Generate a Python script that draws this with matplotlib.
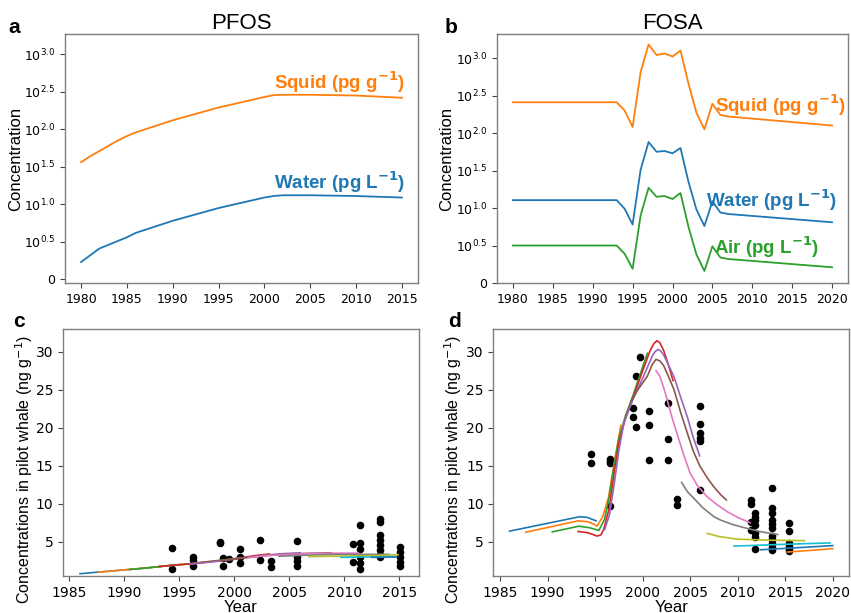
import matplotlib
matplotlib.use("Agg")
import matplotlib.pyplot as plt

# ------------------------------------------------------------------
# data
# ------------------------------------------------------------------

# panel a: PFOS model concentrations (log10 scale)
pfos_years = [1980, 1981, 1982, 1983, 1984, 1985, 1986, 1987.5, 1988, 1990,
              1995, 2000, 2001, 2002, 2005, 2010, 2015]
pfos_squid = [1.56, 1.64, 1.71, 1.78, 1.85, 1.91, 1.96, 2.02, 2.04, 2.12,
              2.29, 2.43, 2.455, 2.46, 2.46, 2.45, 2.42]
pfos_water = [0.23, 0.32, 0.41, 0.46, 0.51, 0.56, 0.62, 0.68, 0.70, 0.78,
              0.95, 1.09, 1.11, 1.12, 1.12, 1.11, 1.09]

# panel b: FOSA model concentrations (log10 scale)
fosa_years = [1980, 1993, 1994, 1995, 1996, 1997, 1998, 1999, 2000, 2001,
              2002, 2003, 2004, 2005, 2006, 2007, 2020]
fosa_squid = [2.41, 2.41, 2.30, 2.08, 2.81, 3.18, 3.04, 3.06, 3.02, 3.10,
              2.66, 2.27, 2.05, 2.39, 2.24, 2.22, 2.10]
fosa_water = [1.105, 1.105, 0.99, 0.78, 1.51, 1.88, 1.75, 1.76, 1.73, 1.80,
              1.35, 0.98, 0.76, 1.09, 0.94, 0.92, 0.81]
fosa_air = [0.50, 0.50, 0.39, 0.19, 0.90, 1.27, 1.15, 1.16, 1.12, 1.20,
            0.75, 0.38, 0.16, 0.49, 0.34, 0.32, 0.21]

log_ticks = [0, 0.5, 1.0, 1.5, 2.0, 2.5, 3.0]
log_labels = ["0", "$10^{0.5}$", "$10^{1.0}$", "$10^{1.5}$", "$10^{2.0}$",
              "$10^{2.5}$", "$10^{3.0}$"]

# panel c: PFOS measured in pilot whales (sampling year -> values)
c_sample_years = [1994.4, 1996.3, 1998.7, 1999.0, 1999.5, 2000.5, 2002.4,
                  2003.35, 2005.7, 2010.8, 2011.45, 2013.25, 2015.05]
c_sample_values = [
    [4.2, 1.4],
    [3.0, 2.6, 1.85],
    [5.0, 4.8],
    [2.8, 1.8],
    [2.7],
    [4.1, 3.0, 2.15],
    [5.2, 2.6],
    [2.5, 1.7],
    [5.15, 3.0, 2.45, 1.8],
    [4.65, 2.35],
    [7.2, 4.8, 4.1, 3.0, 2.15, 1.4],
    [8.05, 7.6, 5.9, 5.2, 4.55, 3.9, 3.25, 3.0],
    [4.35, 3.7, 3.0, 2.4, 1.8],
]

# panel c: modelled cohorts (years, values)
c_model_years = [
    [1986, 1988, 1990, 1992, 1994, 1995],
    [1987.7, 1990, 1992, 1994, 1996, 1997.7],
    [1990.5, 1992, 1994, 1996, 1998, 2000.5],
    [1993.2, 1996, 1998, 2000, 2002, 2003.2],
    [1996, 1998, 2000, 2002, 2004, 2006],
    [1998.8, 2000, 2002, 2004, 2006, 2008.8],
    [2001.3, 2003, 2005, 2007, 2009, 2011.3],
    [2004.1, 2006, 2008, 2010, 2012, 2014.1],
    [2006.8, 2009, 2011, 2013, 2014.9],
    [2009.7, 2012, 2014.7],
    [2012.5, 2014.7],
]
c_model_values = [
    [0.8, 1.05, 1.3, 1.55, 1.85, 2.0],
    [1.0, 1.3, 1.55, 1.85, 2.1, 2.4],
    [1.35, 1.55, 1.85, 2.1, 2.45, 2.85],
    [1.75, 2.1, 2.4, 2.75, 3.2, 3.4],
    [2.05, 2.35, 2.7, 3.1, 3.4, 3.55],
    [2.5, 2.75, 3.05, 3.3, 3.45, 3.55],
    [2.9, 3.2, 3.35, 3.45, 3.5, 3.5],
    [3.1, 3.2, 3.3, 3.35, 3.35, 3.35],
    [3.05, 3.1, 3.15, 3.2, 3.3],
    [2.95, 3.0, 3.05],
    [2.95, 3.0],
]

# panel d: FOSA measured in pilot whales
d_sample_years = [1994.55, 1996.55, 1998.95, 1999.25, 1999.7, 2000.7, 2002.65,
                  2003.6, 2006.0, 2011.4, 2011.8, 2013.55, 2015.4]
d_sample_values = [
    [16.6, 15.4],
    [15.9, 15.6, 15.4, 9.7],
    [22.6, 21.4],
    [26.8, 20.1],
    [29.3],
    [22.2, 20.3, 15.7],
    [23.3, 18.55, 15.7],
    [10.6, 9.8],
    [22.9, 20.5, 19.3, 18.7, 18.2, 11.75],
    [10.5, 10.0, 7.6, 6.5],
    [8.8, 8.2, 7.8, 7.2, 6.1, 5.6, 4.1],
    [12.1, 9.4, 8.8, 7.8, 7.3, 6.75, 5.75, 5.3, 4.8, 4.25, 3.9],
    [7.5, 6.45, 4.9, 4.4, 4.0, 3.8],
]

# panel d: modelled cohorts
d_model_years = [
    [1986, 1993.4, 1994.2, 1995.1],
    [1987.7, 1993.2, 1994.2, 1994.9, 1995.2, 1995.8, 1996.4, 1997, 1997.7],
    [1990.5, 1993.3, 1994.4, 1995.1, 1995.4, 1996, 1996.5, 1997, 1997.5,
     1998.2, 1999, 2000, 2000.5],
    [1993.2, 1994.2, 1994.9, 1995.2, 1995.6, 1995.9, 1996.5, 1997, 1997.5,
     1998.2, 1999, 2000, 2000.8, 2001.2, 2001.5, 2001.8, 2002.2, 2002.7, 2003.2],
    [1996.0, 1996.5, 1997, 1997.5, 1998, 1999, 2000, 2001, 2001.3, 2001.6,
     2001.9, 2002.2, 2002.7, 2003.3, 2004, 2004.7, 2005.3, 2006],
    [1998.8, 1999.5, 2000.5, 2001, 2001.4, 2001.8, 2002.2, 2002.7, 2003.3,
     2004, 2004.7, 2005.3, 2006, 2006.8, 2007.5, 2008.2, 2008.8],
    [2001.4, 2001.8, 2002.2, 2002.6, 2003.1, 2003.6, 2004.3, 2005, 2005.8,
     2006.8, 2007.8, 2008.9, 2010, 2011.3],
    [2004.1, 2004.7, 2005.4, 2006.3, 2007.5, 2008.2, 2009.5, 2011, 2012.5, 2014.2],
    [2006.8, 2008, 2009.9, 2013.4, 2017],
    [2009.6, 2014.5, 2019.7],
    [2012.4, 2016, 2020],
    [2015.2, 2017.5, 2020],
]
d_model_values = [
    [6.4, 8.3, 8.2, 7.75],
    [6.25, 7.75, 7.65, 7.3, 7.05, 8.3, 10.8, 15.3, 20.3],
    [6.3, 7.05, 6.85, 6.6, 6.5, 8.0, 11.0, 15.0, 18.6, 21.6, 24.3, 28.0, 29.8],
    [6.35, 6.2, 5.9, 5.75, 5.9, 6.6, 9.5, 14.0, 18.0, 21.3, 24.0, 27.5, 30.2,
     31.1, 31.45, 31.2, 30.2, 28.3, 26.2],
    [6.6, 8.5, 12.5, 17.0, 20.5, 23.8, 26.5, 29.4, 30.0, 30.3, 30.1, 29.6,
     28.3, 26.7, 24.0, 21.4, 18.8, 16.3],
    [23.5, 25.0, 26.8, 28.3, 29.0, 28.8, 28.2, 26.8, 25.0, 22.0, 19.3, 17.0,
     15.0, 13.4, 12.2, 11.2, 10.5],
    [27.5, 26.8, 25.3, 23.6, 21.3, 19.3, 16.5, 14.0, 12.3, 10.9, 9.9, 8.95,
     8.2, 7.5],
    [12.8, 11.6, 10.7, 9.5, 8.3, 7.85, 7.25, 6.75, 6.3, 5.95],
    [6.1, 5.7, 5.35, 5.2, 5.15],
    [4.43, 4.65, 4.85],
    [3.95, 4.2, 4.5],
    [3.65, 3.85, 4.1],
]

# ------------------------------------------------------------------
# styling
# ------------------------------------------------------------------
plt.rcParams["font.family"] = ["DejaVu Sans"]
LABEL_FONT = ["Liberation Sans", "DejaVu Sans"]
SPINE_COLOR = "#7f7f7f"
C = plt.rcParams["axes.prop_cycle"].by_key()["color"]


def _style(ax, tick_size):
    for sp in ax.spines.values():
        sp.set_color(SPINE_COLOR)
        sp.set_linewidth(1.0)
    ax.tick_params(labelsize=tick_size, length=3.5, width=0.8, color="#444444")


fig = plt.figure(figsize=(8.51, 6.13), dpi=100)
ax_a = fig.add_axes([0.0764, 0.5383, 0.4148, 0.4062])
ax_b = fig.add_axes([0.5840, 0.5383, 0.4125, 0.4062])
ax_c = fig.add_axes([0.0740, 0.0604, 0.4183, 0.4030])
ax_d = fig.add_axes([0.5797, 0.0604, 0.4180, 0.4030])

# --- panel a ---
ax_a.plot(pfos_years, pfos_squid, color=C[1], lw=1.3)
ax_a.plot(pfos_years, pfos_water, color=C[0], lw=1.3)
ax_a.set_xlim(1978.25, 2016.75)
ax_a.set_ylim(-0.05, 3.27)
ax_a.set_xticks(range(1980, 2016, 5))
ax_a.set_yticks(log_ticks)
ax_a.set_yticklabels(log_labels)
ax_a.set_ylabel("Concentration", family=LABEL_FONT, fontsize=12)
ax_a.yaxis.set_label_coords(-0.118, 0.5)
ax_a.set_title("PFOS", family=LABEL_FONT, fontsize=16, pad=1.5)
ax_a.text(2015.4, 2.63, "Squid (pg g$^{\\mathbf{-1}}$)", color=C[1],
          fontsize=13.5, fontweight="bold", family=LABEL_FONT,
          ha="right", va="center")
ax_a.text(2015.4, 1.30, "Water (pg L$^{\\mathbf{-1}}$)", color=C[0],
          fontsize=13.5, fontweight="bold", family=LABEL_FONT,
          ha="right", va="center")
_style(ax_a, 9)

# --- panel b ---
ax_b.plot(fosa_years, fosa_squid, color=C[1], lw=1.3)
ax_b.plot(fosa_years, fosa_water, color=C[0], lw=1.3)
ax_b.plot(fosa_years, fosa_air, color=C[2], lw=1.3)
ax_b.set_xlim(1978, 2022)
ax_b.set_ylim(0, 3.32)
ax_b.set_xticks(range(1980, 2021, 5))
ax_b.set_yticks(log_ticks)
ax_b.set_yticklabels(log_labels)
ax_b.set_ylabel("Concentration", family=LABEL_FONT, fontsize=12)
ax_b.yaxis.set_label_coords(-0.122, 0.5)
ax_b.set_title("FOSA", family=LABEL_FONT, fontsize=16, pad=1.5)
ax_b.text(2021.75, 2.37, "Squid (pg g$^{\\mathbf{-1}}$)", color=C[1],
          fontsize=13.5, fontweight="bold", family=LABEL_FONT,
          ha="right", va="center")
ax_b.text(2020.6, 1.10, "Water (pg L$^{\\mathbf{-1}}$)", color=C[0],
          fontsize=13.5, fontweight="bold", family=LABEL_FONT,
          ha="right", va="center")
ax_b.text(2018.4, 0.475, "Air (pg L$^{\\mathbf{-1}}$)", color=C[2],
          fontsize=13.5, fontweight="bold", family=LABEL_FONT,
          ha="right", va="center")
_style(ax_b, 9)

# --- panels c and d ---
whale_label = "Concentrations in pilot whale (ng g$^{-1}$)"
for ax, s_years, s_vals, m_years, m_vals, xlim, xmax, lab_x in (
    (ax_c, c_sample_years, c_sample_values, c_model_years, c_model_values,
     (1984.45, 2016.8), 2015, -0.079),
    (ax_d, d_sample_years, d_sample_values, d_model_years, d_model_values,
     (1984.3, 2021.7), 2020, -0.082),
):
    for yr, vals in zip(s_years, s_vals):
        ax.scatter([yr] * len(vals), vals, s=30, color="black", zorder=2,
                   linewidths=0)
    for i, (xs, ys) in enumerate(zip(m_years, m_vals)):
        ax.plot(xs, ys, color=C[i % 10], lw=1.2, zorder=3)
    ax.set_xlim(*xlim)
    ax.set_ylim(0.5, 33)
    ax.set_xticks(range(1985, xmax + 1, 5))
    ax.set_yticks([5, 10, 15, 20, 25, 30])
    ax.set_ylabel(whale_label, family=LABEL_FONT, fontsize=11.5)
    ax.yaxis.set_label_coords(lab_x, 0.43)
    ax.set_xlabel("Year", family=LABEL_FONT, fontsize=12, labelpad=0)
    _style(ax, 10)

# panel letters
for letter, (x, y) in zip("abcd", [(0.010, 0.946), (0.523, 0.946),
                                    (0.016, 0.467), (0.526, 0.467)]):
    fig.text(x, y, letter, fontsize=15, fontweight="bold", family=LABEL_FONT)

fig.savefig("out.png", dpi=100)
